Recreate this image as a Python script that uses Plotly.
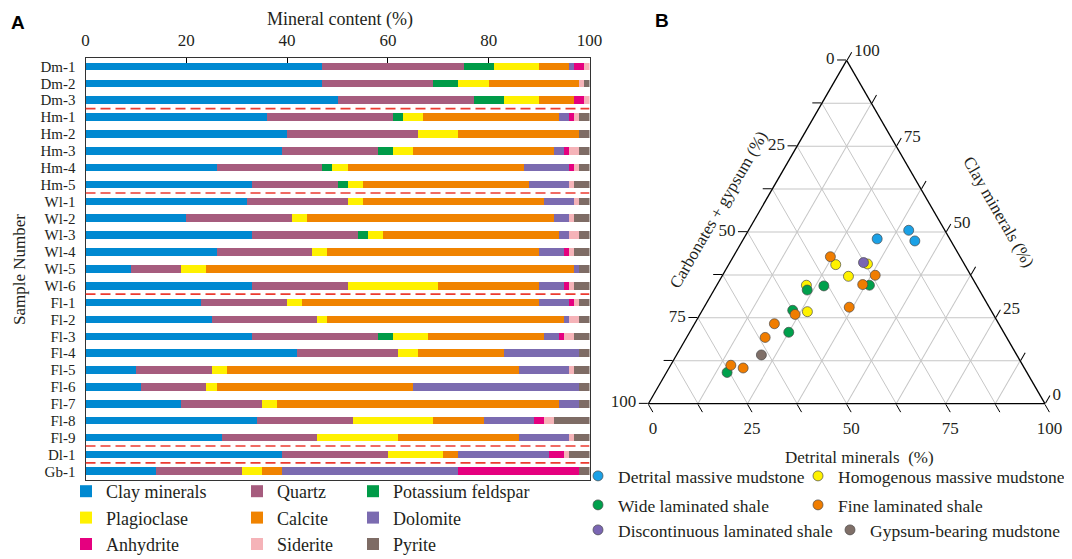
import plotly.graph_objects as go

W, H = 1072, 559


def px_x(v):
    return v / W


def px_y(v):
    return 1 - v / H


FONT = "Liberation Serif"
TXT = "#231f20"

# ---------------- Panel A data: mineral content (%) ----------------
samples = ["Dm-1", "Dm-2", "Dm-3", "Hm-1", "Hm-2", "Hm-3", "Hm-4", "Hm-5",
           "Wl-1", "Wl-2", "Wl-3", "Wl-4", "Wl-5", "Wl-6",
           "Fl-1", "Fl-2", "Fl-3", "Fl-4", "Fl-5", "Fl-6", "Fl-7", "Fl-8", "Fl-9",
           "Dl-1", "Gb-1"]
group_sizes = [3, 5, 6, 9, 1, 1]

clay_minerals = [47, 47, 50, 36, 40, 39, 26, 33, 32, 20, 33, 26, 9, 33, 23, 25, 33, 42, 10, 11, 19, 34, 27, 39, 14]
quartz = [28, 22, 27, 25, 26, 19, 21, 17, 20, 21, 21, 19, 10, 19, 17, 21, 25, 20, 15, 13, 16, 19, 19, 21, 17]
potassium_feldspar = [6, 5, 6, 2, 0, 3, 2, 2, 0, 0, 2, 0, 0, 0, 0, 0, 3, 0, 0, 0, 0, 0, 0, 0, 0]
plagioclase = [9, 6, 7, 4, 8, 4, 3, 3, 3, 3, 3, 3, 5, 18, 3, 2, 7, 4, 3, 2, 3, 16, 16, 11, 4]
calcite = [6, 18, 7, 27, 24, 28, 35, 33, 36, 49, 35, 42, 73, 20, 47, 47, 23, 17, 58, 39, 56, 10, 24, 3, 4]
dolomite = [1, 0, 0, 2, 0, 2, 9, 8, 6, 3, 2, 5, 1, 5, 6, 1, 3, 15, 10, 33, 4, 10, 10, 18, 35]
anhydrite = [2, 0, 2, 1, 0, 1, 1, 0, 0, 0, 0, 1, 0, 1, 1, 0, 1, 0, 0, 0, 0, 2, 0, 3, 24]
siderite = [1, 1, 1, 1, 0, 2, 1, 1, 1, 1, 2, 1, 0, 1, 1, 2, 2, 0, 1, 0, 0, 2, 1, 1, 0]
pyrite = [0, 1, 0, 2, 2, 2, 2, 3, 2, 3, 2, 3, 2, 3, 2, 2, 3, 2, 3, 2, 2, 7, 3, 4, 2]

mineral_names = ["Clay minerals", "Quartz", "Potassium feldspar", "Plagioclase", "Calcite",
                 "Dolomite", "Anhydrite", "Siderite", "Pyrite"]
mineral_values = [clay_minerals, quartz, potassium_feldspar, plagioclase, calcite,
                  dolomite, anhydrite, siderite, pyrite]
mineral_colors = ["#0089d1", "#a65c7e", "#009b48", "#fff100", "#f08300",
                  "#7b6bb0", "#e5007f", "#f5b3b8", "#7e6c65"]
# legend column for each mineral (3 columns x 3 rows)
mineral_legend = ["legend", "legend2", "legend3"] * 3

# ---------------- Panel B data: ternary (clay, carbonates+gypsum, detrital) % ----------------
facies_names = ["Detrital massive mudstone", "Homogenous massive mudstone",
                "Wide laminated shale", "Fine laminated shale",
                "Discontinuous laminated shale", "Gypsum-bearing mudstone"]
facies_colors = ["#1ba1e6", "#fff200", "#00a04c", "#f07d00", "#7a66b3", "#7f6f68"]
facies_legend = ["legend4", "legend5", "legend6", "legend7", "legend8", "legend9"]

tern_clay = [
    [50.5, 47.4, 48.0],
    [40.5, 40.7, 37.1, 34.5, 26.8],
    [34.3, 33.1, 34.5, 27.2, 20.8, 9.1],
    [42.8, 37.4, 34.7, 28.1, 26.0, 23.7, 19.3, 11.2, 10.4],
    [41.1],
    [14.2],
]
tern_carbonates = [
    [9.1, 9.1, 18.3],
    [32.5, 24.4, 31.0, 42.9, 46.5],
    [38.6, 43.4, 27.0, 50.0, 54.2, 75.6],
    [32.7, 24.1, 28.6, 35.3, 50.0, 57.6, 60.9, 73.6, 70.9],
    [25.2],
    [64.4],
]
tern_detrital = [
    [40.4, 43.5, 33.7],
    [27.0, 34.9, 31.9, 22.6, 26.7],
    [27.1, 23.5, 38.5, 22.8, 25.0, 15.3],
    [24.5, 38.5, 36.7, 36.6, 24.0, 20.5, 19.8, 15.2, 18.7],
    [33.7],
    [21.4],
]
tern_ticks = [0, 12.5, 25, 37.5, 50, 62.5, 75, 87.5, 100]

fig = go.Figure()

for name, vals, col, lg in zip(mineral_names, mineral_values, mineral_colors, mineral_legend):
    fig.add_trace(go.Bar(
        y=samples, x=vals, orientation="h", name=name,
        marker=dict(color=col, line=dict(width=0)),
        legend=lg, hoverinfo="name+x",
    ))

for name, col, lg, a, b, c in zip(facies_names, facies_colors, facies_legend,
                                  tern_clay, tern_carbonates, tern_detrital):
    fig.add_trace(go.Scatterternary(
        a=a, b=b, c=c, mode="markers", name=name, legend=lg,
        marker=dict(size=10, color=col, line=dict(color="#4a4a4a", width=0.7)),
    ))

# red dashed separators between sample groups
cum = 0
for g in group_sizes[:-1]:
    cum += g
    fig.add_shape(type="line", xref="x", yref="y", x0=0, x1=100, y0=cum - 0.5, y1=cum - 0.5,
                  line=dict(color="#ec3b30", width=1.6, dash="10px,5px"))

# ternary axis labels: values of the edge quantity (reverse of the vertex component)
tern_text = [str(int(100 - v)) if v % 25 == 0 else "" for v in tern_ticks]
tern_axis = dict(
    tickmode="array", tickvals=tern_ticks, ticktext=tern_text,
    ticks="outside", ticklen=9, tickwidth=1.2, tickcolor="black",
    linecolor="black", linewidth=1.3, showline=True,
    showgrid=True, gridcolor="#c6c6c6", gridwidth=1,
    tickfont=dict(family=FONT, size=17, color=TXT),
    title=dict(text=""),
)

leg_common = dict(font=dict(family=FONT, size=18, color=TXT), bgcolor="rgba(0,0,0,0)",
                  borderwidth=0, itemclick=False, itemdoubleclick=False, traceorder="normal")
tleg = dict(leg_common, font=dict(family=FONT, size=17.5, color=TXT), orientation="h",
            xanchor="left", yanchor="top")

fig.update_layout(
    template="none",
    width=W, height=H,
    margin=dict(l=0, r=0, t=0, b=0, autoexpand=False),
    paper_bgcolor="white", plot_bgcolor="white",
    barmode="stack", bargap=0.55,
    font=dict(family=FONT, color=TXT),
    xaxis=dict(domain=[px_x(77.5), px_x(581.5)], range=[0, 100], side="top",
               tickmode="array", tickvals=[0, 20, 40, 60, 80, 100],
               ticks="inside", ticklen=5, tickcolor="black", tickwidth=1,
               showline=True, linecolor="#333", linewidth=1.2, mirror=True,
               showgrid=False, zeroline=False, ticklabelstandoff=4, automargin=False,
               tickfont=dict(family=FONT, size=17, color=TXT), fixedrange=True),
    yaxis=dict(domain=[px_y(471.7), px_y(50)], categoryorder="array", categoryarray=samples,
               tickmode="array", tickvals=samples,
               autorange="reversed", showline=True, linecolor="#333", linewidth=1.2, mirror=True,
               ticks="", showgrid=False, zeroline=False, ticklabelstandoff=6, automargin=False,
               tickfont=dict(family=FONT, size=15, color=TXT), fixedrange=True),
    ternary=dict(
        sum=100, bgcolor="white",
        domain=dict(x=[px_x(640.3), px_x(1037)], y=[px_y(395.7), px_y(52.3)]),
        aaxis=tern_axis, baxis=tern_axis, caxis=tern_axis,
    ),
    legend=dict(leg_common, orientation="v", x=px_x(58), y=px_y(465), xanchor="left", yanchor="top"),
    legend2=dict(leg_common, orientation="v", x=px_x(229), y=px_y(465), xanchor="left", yanchor="top"),
    legend3=dict(leg_common, orientation="v", x=px_x(345), y=px_y(465), xanchor="left", yanchor="top"),
    legend4=dict(tleg, x=px_x(570), y=px_y(450)),
    legend5=dict(tleg, x=px_x(790), y=px_y(450)),
    legend6=dict(tleg, x=px_x(570), y=px_y(479)),
    legend7=dict(tleg, x=px_x(790), y=px_y(479)),
    legend8=dict(tleg, x=px_x(570), y=px_y(504)),
    legend9=dict(tleg, x=px_x(822), y=px_y(504)),
    showlegend=True,
)

ann = [
    dict(text="<b>A</b>", x=px_x(10), y=px_y(14), font=dict(family="Liberation Sans", size=19, color="black")),
    dict(text="<b>B</b>", x=px_x(654), y=px_y(12), font=dict(family="Liberation Sans", size=19, color="black")),
    dict(text="Mineral content (%)", x=px_x(332), y=px_y(11), font=dict(family=FONT, size=18, color=TXT)),
    dict(text="Sample Number", x=px_x(11), y=px_y(262), textangle=-90, font=dict(family=FONT, size=17, color=TXT)),
    dict(text="Carbonates + gypsum (%)", x=px_x(711), y=px_y(202), textangle=-60, font=dict(family=FONT, size=17, color=TXT)),
    dict(text="Clay minerals (%)", x=px_x(990), y=px_y(204), textangle=60, font=dict(family=FONT, size=17, color=TXT)),
    dict(text="Detrital minerals  (%)", x=px_x(851), y=px_y(449), font=dict(family=FONT, size=17, color=TXT)),
]
for a in ann:
    fig.add_annotation(xref="paper", yref="paper", showarrow=False, xanchor="center", yanchor="middle", **a)

fig.write_html("out.html")
